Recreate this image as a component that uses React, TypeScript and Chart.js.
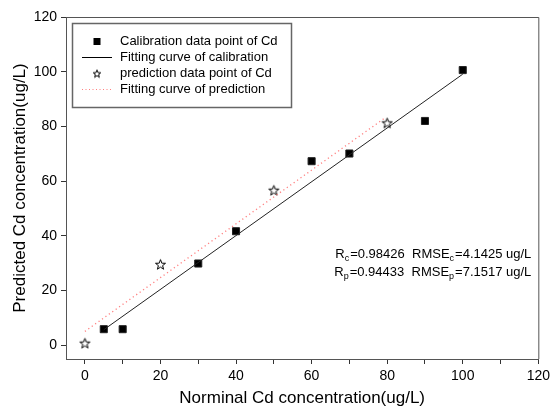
import React, { useEffect, useRef } from "react";
import { Chart, registerables } from "chart.js";

Chart.register(...registerables);

// ---- data ----
const calibrationX = [5, 10, 30, 40, 60, 70, 90, 100];
const calibrationY = [5.9, 5.9, 29.9, 41.7, 67.3, 70.1, 82, 100.6];
const predictionX = [0, 20, 50, 80];
const predictionY = [0.8, 29.6, 56.7, 81.3];
const calibrationFitX = [5, 100];
const calibrationFitY = [5.7, 99.1];
const predictionFitX = [0, 79.5];
const predictionFitY = [5.1, 83.2];

const legendLabels = [
  "Calibration data point of Cd",
  "Fitting curve of calibration",
  "prediction data point of Cd",
  "Fitting curve of prediction",
];
const statsRows = [
  { r: "c", rVal: "0.98426", e: "c", eVal: "4.1425 ug/L" },
  { r: "p", rVal: "0.94433", e: "p", eVal: "7.1517 ug/L" },
];
const xTitle = "Norminal Cd concentration(ug/L)";
const yTitle = "Predicted Cd concentration(ug/L)";

const FONT = "'Liberation Sans', Arial, sans-serif";
const PINK = "#ff7f7f";

function makeStar(size: number, outer: number, inner: number, lw: number): HTMLCanvasElement {
  const c = document.createElement("canvas");
  c.width = size;
  c.height = size;
  const ctx = c.getContext("2d")!;
  const cx = size / 2;
  const cy = size / 2 + 0.5;
  ctx.beginPath();
  for (let i = 0; i < 10; i++) {
    const r = i % 2 === 0 ? outer : inner;
    const a = -Math.PI / 2 + (i * Math.PI) / 5;
    const px = cx + r * Math.cos(a);
    const py = cy + r * Math.sin(a);
    if (i === 0) ctx.moveTo(px, py);
    else ctx.lineTo(px, py);
  }
  ctx.closePath();
  ctx.fillStyle = "#fff";
  ctx.fill();
  ctx.strokeStyle = "#000";
  ctx.lineWidth = lw;
  ctx.stroke();
  return c;
}

const framePlugin = {
  id: "frameAndLegend",
  afterDraw(chart: any) {
    const { ctx, chartArea } = chart;
    const { left, right, top, bottom } = chartArea;
    ctx.save();
    // top & right frame
    ctx.strokeStyle = "#555";
    ctx.lineWidth = 1;
    ctx.beginPath();
    ctx.moveTo(left, top + 0.5);
    ctx.lineTo(right + 0.5, top + 0.5);
    ctx.lineTo(right + 0.5, bottom);
    ctx.stroke();

    // legend box
    const bx = left + 6;
    const by = top + 6;
    const bw = 219;
    const bh = 84;
    ctx.fillStyle = "#fff";
    ctx.fillRect(bx, by, bw, bh);
    ctx.strokeStyle = "#666";
    ctx.lineWidth = 1.5;
    ctx.strokeRect(bx + 0.5, by + 0.5, bw, bh);

    const symX = bx + 25;
    const textX = bx + 48;
    const rowY = (i: number) => by + 18.5 + i * 16;
    ctx.font = `13px ${FONT}`;
    ctx.fillStyle = "#000";
    ctx.textBaseline = "middle";
    ctx.textAlign = "left";
    legendLabels.forEach((t, i) => ctx.fillText(t, textX, rowY(i)));

    // symbols
    ctx.fillStyle = "#000";
    ctx.fillRect(symX - 3.5, rowY(0) - 3.5, 7, 7);
    ctx.strokeStyle = "#000";
    ctx.lineWidth = 1;
    ctx.beginPath();
    ctx.moveTo(symX - 15, rowY(1));
    ctx.lineTo(symX + 15, rowY(1));
    ctx.stroke();
    const star = makeStar(10, 4, 1.7, 1);
    ctx.drawImage(star, symX - 5, rowY(2) - 5);
    ctx.strokeStyle = PINK;
    ctx.setLineDash([1, 2.5]);
    ctx.beginPath();
    ctx.moveTo(symX - 15, rowY(3));
    ctx.lineTo(symX + 15, rowY(3));
    ctx.stroke();
    ctx.setLineDash([]);

    // stats annotation
    const big = `13px ${FONT}`;
    const small = `9px ${FONT}`;
    const endX = right - 7;
    const baseY0 = top + 241;
    statsRows.forEach((row, i) => {
      const parts: [string, boolean][] = [
        ["R", false],
        [row.r, true],
        ["=" + row.rVal + "  RMSE", false],
        [row.e, true],
        ["=" + row.eVal, false],
      ];
      let w = 0;
      parts.forEach(([t, sub]) => {
        ctx.font = sub ? small : big;
        w += ctx.measureText(t).width + (sub ? 1 : 0);
      });
      let x = endX - w;
      const baseY = baseY0 + i * 18;
      ctx.textBaseline = "alphabetic";
      ctx.fillStyle = "#000";
      parts.forEach(([t, sub]) => {
        ctx.font = sub ? small : big;
        ctx.fillText(t, x, sub ? baseY + 3 : baseY);
        x += ctx.measureText(t).width + (sub ? 1 : 0);
      });
    });
    ctx.restore();
  },
};

export default function App() {
  const ref = useRef<HTMLCanvasElement>(null);
  useEffect(() => {
    document.body.style.margin = "0";
    const starImg = makeStar(13, 5.3, 2.2, 1);
    const toXY = (xs: number[], ys: number[]) => xs.map((x, i) => ({ x, y: ys[i] }));
    const chart = new Chart(ref.current!, {
      type: "scatter",
      data: {
        datasets: [
          {
            label: legendLabels[1],
            data: toXY(calibrationFitX, calibrationFitY),
            showLine: true,
            borderColor: "#222",
            borderWidth: 1,
            pointRadius: 0,
          },
          {
            label: legendLabels[3],
            data: toXY(predictionFitX, predictionFitY),
            showLine: true,
            borderColor: PINK,
            borderWidth: 1.3,
            borderDash: [1.2, 3],
            pointRadius: 0,
          },
          {
            label: legendLabels[0],
            data: toXY(calibrationX, calibrationY),
            pointStyle: "rect",
            pointRadius: 5,
            backgroundColor: "#000",
            borderColor: "#222",
            borderWidth: 1,
          },
          {
            label: legendLabels[2],
            data: toXY(predictionX, predictionY),
            pointStyle: starImg as any,
            pointRadius: 6,
          },
        ],
      },
      options: {
        animation: false,
        responsive: false,
        layout: { padding: { top: 17, right: 11, bottom: 0, left: 0 } },
        plugins: { legend: { display: false }, tooltip: { enabled: false } },
        scales: {
          x: {
            type: "linear",
            min: -5,
            max: 120,
            afterBuildTicks: (s: any) => {
              const t = [];
              for (let v = 0; v <= 120; v += 10) t.push({ value: v });
              s.ticks = t;
            },
            afterFit: (s: any) => {
              s.height = 51;
            },
            ticks: {
              font: { family: FONT, size: 14 },
              color: "#000",
              padding: 4,
              maxRotation: 0,
              autoSkip: false,
              callback: (v: any) => (Number(v) % 20 === 0 ? String(v) : ""),
            },
            grid: { drawOnChartArea: false, tickLength: 5, color: "#333" },
            border: { color: "#555", width: 1 },
            title: {
              display: true,
              text: xTitle,
              font: { family: FONT, size: 17 },
              color: "#000",
              padding: { top: 0, bottom: 1 },
            },
          },
          y: {
            type: "linear",
            min: -5,
            max: 120,
            afterBuildTicks: (s: any) => {
              const t = [];
              for (let v = 0; v <= 120; v += 20) t.push({ value: v });
              s.ticks = t;
            },
            afterFit: (s: any) => {
              s.width = 66;
            },
            ticks: {
              font: { family: FONT, size: 14 },
              color: "#000",
              padding: 4,
            },
            grid: { drawOnChartArea: false, tickLength: 5, color: "#333" },
            border: { color: "#555", width: 1 },
            title: {
              display: true,
              text: yTitle,
              font: { family: FONT, size: 17 },
              color: "#000",
              padding: { top: 10, bottom: 0 },
            },
          },
        },
      },
      plugins: [framePlugin],
    });
    return () => chart.destroy();
  }, []);
  return (
    <div style={{ width: 554, height: 410, background: "#fff" }}>
      <canvas ref={ref} width={554} height={410} style={{ display: "block" }} />
    </div>
  );
}
